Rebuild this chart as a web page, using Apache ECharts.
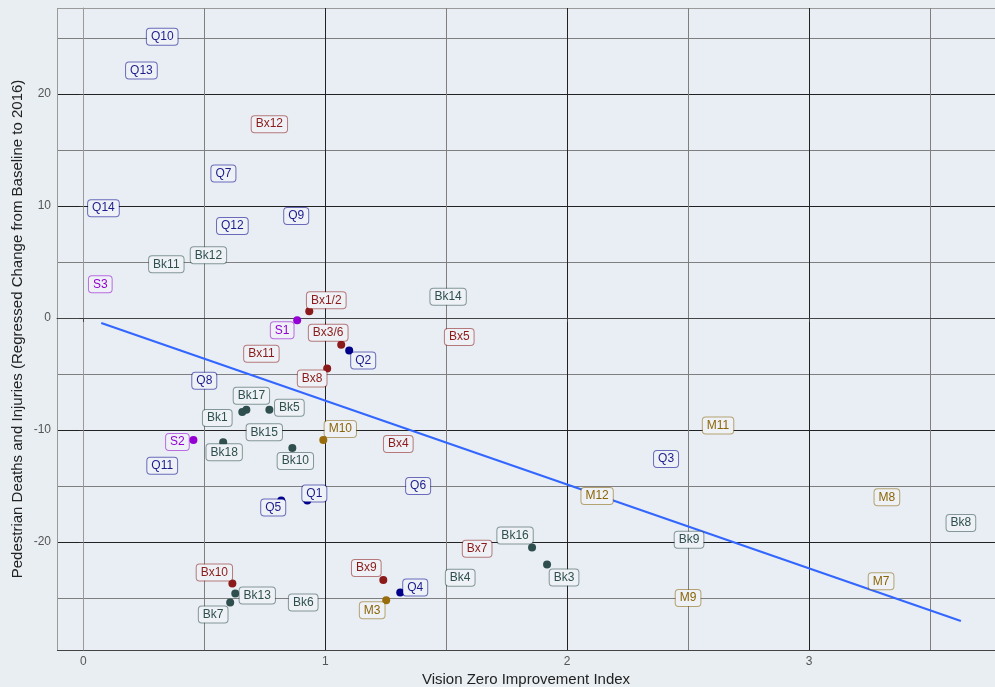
<!DOCTYPE html>
<html>
<head>
<meta charset="utf-8">
<script src="https://cdn.jsdelivr.net/npm/echarts@6/dist/echarts.min.js"></script>
<style>
  html, body { margin: 0; padding: 0; background: #e9eef3; }
  #chart { width: 995px; height: 687px; }
</style>
</head>
<body>
<div id="chart"></div>
<script>
// district labels, index values (x) and regressed change (y)
var names = ['Q10', 'Q13', 'Bx12', 'Q7', 'Q14', 'Q9', 'Q12', 'Bk12', 'Bk11', 'S3',
  'Bk14', 'Bx5', 'Bx11', 'Q8', 'M11', 'Bx4', 'Q11', 'Q3', 'Q6', 'M12',
  'M8', 'Bk8', 'Bk9', 'Bk4', 'M7', 'M9', 'Bk6', 'Bk15', 'Bx7',
  'Bx1/2', 'S1', 'Bx3/6', 'Q2', 'Bx8', 'Bk17', 'Bk1', 'Bk5', 'S2', 'Bk18',
  'Bk10', 'M10', 'Q1', 'Q5', 'Bx10', 'Bk13', 'Bk7', 'Bx9', 'Q4', 'M3',
  'Bk16', 'Bk3'];
var xVals = [0.326, 0.240, 0.769, 0.579, 0.083, 0.880, 0.616, 0.517, 0.343, 0.070,
  1.508, 1.554, 0.736, 0.500, 2.624, 1.302, 0.326, 2.409, 1.384, 2.124,
  3.322, 3.628, 2.504, 1.558, 3.298, 2.500, 0.909, 0.748, 1.628,
  0.934, 0.884, 1.066, 1.099, 1.008, 0.674, 0.657, 0.769, 0.455, 0.578,
  0.864, 0.992, 0.926, 0.818, 0.616, 0.628, 0.607, 1.240, 1.310, 1.252,
  1.855, 1.917];
var yVals = [25.1, 22.1, 17.3, 12.9, 9.8, 9.1, 8.2, 5.6, 4.8, 3.0,
  1.9, -1.7, -3.2, -5.6, -9.6, -11.25, -13.2, -12.6, -15.0, -15.9,
  -16.0, -18.3, -19.8, -23.2, -23.5, -25.0, -25.4, -10.2, -20.6,
  0.6, -0.2, -2.4, -2.9, -4.5, -8.2, -8.4, -8.2, -10.9, -11.1,
  -11.6, -10.9, -16.3, -16.3, -23.7, -24.6, -25.4, -23.4, -24.5, -25.2,
  -20.5, -22.0];

// linear fit line endpoints
var fitX = [0.074, 3.628];
var fitY = [-0.45, -27.05];

var xTicks = ['0', '1', '2', '3'];
var yTicks = ['-20', '-10', '0', '10', '20'];

// label displacement (px) from its point, like a repel layout
var labelOffsets = {
  'Bx1/2': [17, -11], 'S1': [-15, 10], 'Bx3/6': [-13, -12], 'Q2': [14, 10],
  'Bx8': [-15, 10], 'Bk17': [5, -14], 'Bk1': [-25, 6], 'Bk5': [20, -2],
  'S2': [-16, 2], 'Bk18': [1, 10], 'Bk10': [3, 13], 'M10': [17, -11],
  'Q1': [7, -7], 'Q5': [-8, 7], 'Bx10': [-18, -11], 'Bk13': [22, 2],
  'Bk7': [-17, 12], 'Bx9': [-17, -12], 'Q4': [15, -5], 'M3': [-14, 10],
  'Bk16': [-17, -12], 'Bk3': [17, 13]
};

var boroughs = [
  {prefix: 'Bx', dot: '#8b1a1a', text: '#8b1a1a', border: 'rgba(139,26,26,0.55)'},
  {prefix: 'Bk', dot: '#2f4f4f', text: '#2f4f4f', border: 'rgba(47,79,79,0.55)'},
  {prefix: 'M', dot: '#9a6d0c', text: '#8b6508', border: 'rgba(139,101,8,0.55)'},
  {prefix: 'Q', dot: '#00008b', text: '#1c1c8c', border: 'rgba(0,0,139,0.55)'},
  {prefix: 'S', dot: '#9400d3', text: '#9400d3', border: 'rgba(148,0,211,0.55)'}
];

function boroughOf(name) {
  if (name.indexOf('Bx') === 0) return 'Bx';
  if (name.indexOf('Bk') === 0) return 'Bk';
  return name.charAt(0);
}

var series = [{
  type: 'line',
  z: 1,
  data: fitX.map(function (x, i) { return [x, fitY[i]]; }),
  showSymbol: false,
  symbol: 'none',
  lineStyle: {color: '#3366ff', width: 2},
  silent: true
}];

boroughs.forEach(function (b) {
  var data = [];
  names.forEach(function (n, i) {
    if (boroughOf(n) !== b.prefix) return;
    data.push({
      name: n,
      value: [xVals[i], yVals[i]],
      label: {offset: labelOffsets[n] || [0, 0]}
    });
  });
  series.push({
    type: 'scatter',
    z: 3,
    data: data,
    symbolSize: 8,
    itemStyle: {color: b.dot, opacity: 1},
    label: {
      show: true,
      position: 'inside',
      formatter: '{b}',
      fontFamily: 'Liberation Sans',
      fontSize: 12,
      color: b.text,
      backgroundColor: '#eef2f6',
      borderColor: b.border,
      borderWidth: 1,
      borderRadius: 3,
      padding: [2, 4, 2, 4]
    }
  });
});

var chart = echarts.init(document.getElementById('chart'));
chart.setOption({
  backgroundColor: '#e9eef3',
  animation: false,
  grid: {left: 57, right: 0, top: 8, bottom: 37, outerBoundsMode: 'none', containLabel: false,
    backgroundColor: '#e8eef3', show: true, borderWidth: 0},
  xAxis: {
    type: 'value',
    min: -0.109,
    max: 3.769,
    splitNumber: 4,
    name: 'Vision Zero Improvement Index',
    nameLocation: 'middle',
    nameGap: 22,
    nameMoveOverlap: false,
    nameTextStyle: {fontFamily: 'Liberation Sans', fontSize: 15, color: '#222'},
    axisLine: {show: true, lineStyle: {color: '#444', width: 1}},
    axisTick: {show: true, length: 4, lineStyle: {color: '#444'}},
    axisLabel: {
      showMinLabel: false, showMaxLabel: false,
      fontFamily: 'Liberation Sans', fontSize: 12, color: '#555', margin: 6,
      formatter: function (v) { return xTicks.indexOf(String(v)) >= 0 ? String(v) : ''; }
    },
    splitLine: {show: true, lineStyle: {color: ['#9a9a9a', '#222', '#222', '#222', '#222', 'rgba(0,0,0,0)'], width: 1}},
    minorTick: {show: false, splitNumber: 2},
    minorSplitLine: {show: true, lineStyle: {color: '#7f7f7f', width: 1}}
  },
  yAxis: {
    type: 'value',
    min: -29.64,
    max: 27.67,
    splitNumber: 6,
    name: 'Pedestrian Deaths and Injuries (Regressed Change from Baseline to 2016)',
    nameLocation: 'middle',
    nameGap: 32,
    nameMoveOverlap: false,
    nameTextStyle: {fontFamily: 'Liberation Sans', fontSize: 15, color: '#222'},
    axisLine: {show: true, lineStyle: {color: '#9a9a9a', width: 1}},
    axisTick: {show: true, length: 4, lineStyle: {color: '#333'}},
    axisLabel: {
      showMinLabel: false, showMaxLabel: false,
      fontFamily: 'Liberation Sans', fontSize: 12, color: '#555', margin: 6,
      formatter: function (v) { return yTicks.indexOf(String(v)) >= 0 ? String(v) : ''; }
    },
    splitLine: {show: true, lineStyle: {color: ['#444', '#222', '#222', '#222', '#222', '#222', '#9a9a9a'], width: 1}},
    minorTick: {show: false, splitNumber: 2},
    minorSplitLine: {show: true, lineStyle: {color: '#7f7f7f', width: 1}}
  },
  series: series
});
</script>
</body>
</html>
